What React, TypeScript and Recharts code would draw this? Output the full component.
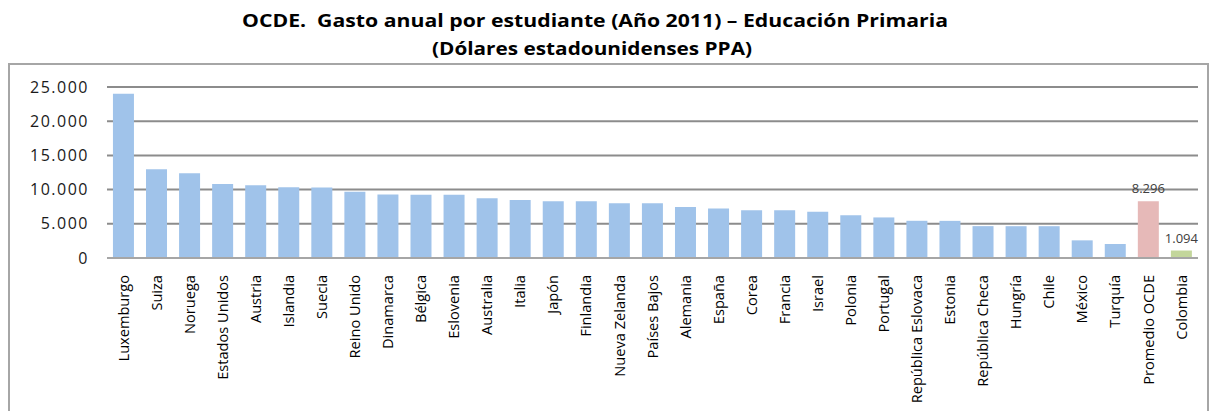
import React from 'react';
import { BarChart, Bar, XAxis, YAxis, CartesianGrid, Cell, LabelList } from 'recharts';

const countries = [
  'Luxemburgo', 'Suiza', 'Noruega', 'Estados Unidos', 'Austria', 'Islandia', 'Suecia',
  'Reino Unido', 'Dinamarca', 'Bélgica', 'Eslovenia', 'Australia', 'Italia', 'Japón',
  'Finlandia', 'Nueva Zelanda', 'Países Bajos', 'Alemania', 'España', 'Corea', 'Francia',
  'Israel', 'Polonia', 'Portugal', 'República Eslovaca', 'Estonia', 'República Checa',
  'Hungría', 'Chile', 'México', 'Turquía', 'Promedio OCDE', 'Colombia',
];

const spending = [
  24000, 12960, 12380, 10830, 10630, 10340, 10300,
  9700, 9270, 9260, 9250, 8740, 8490, 8300,
  8290, 8000, 7990, 7470, 7230, 6990, 6980,
  6750, 6260, 5930, 5440, 5430, 4660,
  4650, 4650, 2580, 2050, 8296, 1094,
];

const labeled = ['Promedio OCDE', 'Colombia'];
const yTicks = [0, 5000, 10000, 15000, 20000, 25000];

const data = countries.map((name, i) => ({ name, value: spending[i] }));

const fmt = (v: number) => v.toLocaleString('de-DE');

const colorFor = (name: string) =>
  name === 'Promedio OCDE' ? '#E6B9B8' : name === 'Colombia' ? '#C3D69B' : '#A0C3EA';

const XTick = (props: any) => {
  const { x, y, payload } = props;
  return (
    <text
      x={x}
      y={y}
      transform={`rotate(-90 ${x} ${y})`}
      textAnchor="end"
      dy="0.35em"
      fontSize={14.6}
      fontFamily="'Open Sans', sans-serif"
      fill="#000"
    >
      {payload.value}
    </text>
  );
};

const renderLabel = (props: any) => {
  const { x, y, width, value, index } = props;
  const name = countries[index];
  if (!labeled.includes(name)) return null;
  return (
    <text
      x={x + width / 2}
      y={y - 8}
      textAnchor="middle"
      fontSize={13}
      fontFamily="'Open Sans', sans-serif"
      fill="#404040"
    >
      {fmt(value)}
    </text>
  );
};

export default function App() {
  return (
    <div style={{ position: 'absolute', left: 0, top: 0, width: 1216, height: 411, background: '#fff', overflow: 'hidden' }}>
      <svg width={1216} height={62} style={{ position: 'absolute', left: 0, top: 0 }}>
        <text x={595} y={27} textAnchor="middle" fontSize={17} fontWeight="bold" xmlSpace="preserve"
          style={{ whiteSpace: 'pre' }}
          fontFamily="'Open Sans', sans-serif" fill="#000" textLength={706} lengthAdjust="spacingAndGlyphs">
          {'OCDE.  Gasto anual por estudiante (Año 2011) – Educación Primaria'}
        </text>
        <text x={592} y={55} textAnchor="middle" fontSize={17} fontWeight="bold"
          fontFamily="'Open Sans', sans-serif" fill="#000" textLength={320} lengthAdjust="spacingAndGlyphs">
          (Dólares estadounidenses PPA)
        </text>
      </svg>
      <div style={{ position: 'absolute', left: 8, top: 63, width: 1201, height: 400, border: '2px solid #a6a6a6', boxSizing: 'border-box' }} />
      <div style={{ position: 'absolute', left: 0, top: 0 }}>
        <BarChart
          width={1216}
          height={411}
          data={data}
          margin={{ top: 87, right: 18, bottom: 0, left: 8 }}
          barCategoryGap="18%"
        >
          <CartesianGrid vertical={false} stroke="#8c8c8c" strokeWidth={2} />
          <XAxis
            dataKey="name"
            interval={0}
            height={153}
            tick={<XTick />}
            tickLine={false}
            axisLine={{ stroke: '#a6a6a6', strokeWidth: 2 }}
            tickMargin={11}
          />
          <YAxis
            width={99}
            domain={[0, 25000]}
            ticks={yTicks}
            tickFormatter={fmt}
            axisLine={false}
            tickLine={false}
            tickSize={0}
            tickMargin={18}
            tick={{ fontSize: 16, fill: '#1a1a1a', fontFamily: "'Open Sans', sans-serif", letterSpacing: 1.5 }}
          />
          <Bar dataKey="value" isAnimationActive={false}>
            {data.map((d) => (
              <Cell key={d.name} fill={colorFor(d.name)} />
            ))}
            <LabelList dataKey="value" content={renderLabel} />
          </Bar>
        </BarChart>
      </div>
    </div>
  );
}
